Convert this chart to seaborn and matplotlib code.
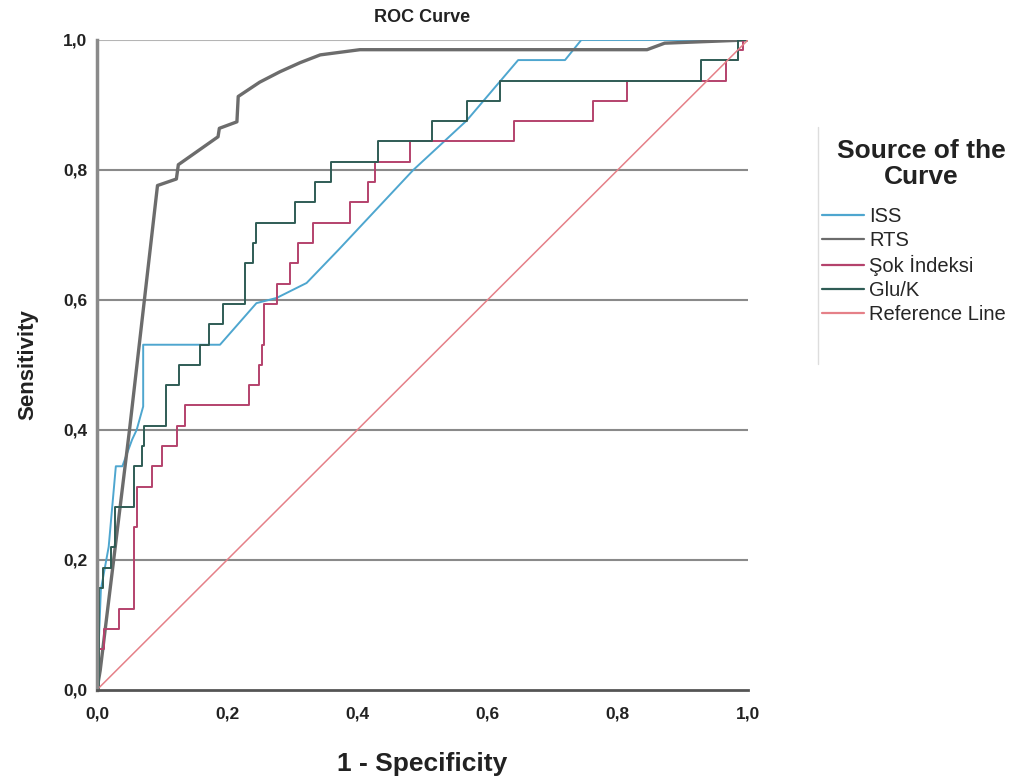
import numpy as np
import pandas as pd
import matplotlib
matplotlib.use('Agg')
import matplotlib.pyplot as plt
from matplotlib.lines import Line2D
import seaborn as sns

sns.set_style('white')
plt.rcParams['font.family'] = ['Liberation Sans', 'DejaVu Sans']

# ROC curve points (1 - specificity, sensitivity)
iss_fpr = [0, 0.006, 0.018, 0.029, 0.039, 0.054, 0.061, 0.071, 0.071, 0.189, 0.245, 0.276,
           0.322, 0.371, 0.486, 0.568, 0.647, 0.719, 0.744, 1.0]
iss_tpr = [0, 0.154, 0.22, 0.344, 0.344, 0.385, 0.40, 0.436, 0.531, 0.531, 0.595, 0.603,
           0.626, 0.677, 0.80, 0.876, 0.969, 0.969, 1.0, 1.0]

rts_fpr = [0, 0.005, 0.05, 0.093, 0.122, 0.125, 0.186, 0.188, 0.215, 0.217, 0.25, 0.281,
           0.312, 0.343, 0.404, 0.845, 0.872, 1.0]
rts_tpr = [0, 0.03, 0.40, 0.776, 0.786, 0.808, 0.851, 0.864, 0.874, 0.913, 0.935, 0.951,
           0.965, 0.977, 0.985, 0.985, 0.995, 1.0]

# step curves: x of each riser and the level reached after it
sok_fpr = [0, 0.003, 0.011, 0.034, 0.057, 0.061, 0.085, 0.100, 0.123, 0.135, 0.234, 0.249,
           0.253, 0.256, 0.277, 0.296, 0.309, 0.332, 0.388, 0.417, 0.427, 0.481, 0.640,
           0.762, 0.814, 0.966, 0.985, 0.993, 1.0]
sok_tpr = [0, 0.0625, 0.094, 0.125, 0.25, 0.3125, 0.344, 0.375, 0.406, 0.4375, 0.469, 0.5,
           0.531, 0.594, 0.625, 0.656, 0.6875, 0.719, 0.75, 0.781, 0.8125, 0.844, 0.875,
           0.906, 0.9375, 0.969, 0.985, 1.0, 1.0]

glu_fpr = [0, 0.003, 0.010, 0.022, 0.027, 0.057, 0.069, 0.073, 0.106, 0.126, 0.158, 0.172,
           0.194, 0.227, 0.240, 0.245, 0.304, 0.335, 0.360, 0.432, 0.514, 0.569, 0.619,
           0.928, 0.985, 1.0]
glu_tpr = [0, 0.156, 0.1875, 0.219, 0.281, 0.344, 0.375, 0.406, 0.469, 0.5, 0.531, 0.5625,
           0.594, 0.656, 0.6875, 0.719, 0.75, 0.781, 0.8125, 0.844, 0.875, 0.906, 0.9375,
           0.969, 1.0, 1.0]

ref_x = [0, 1]
ref_y = [0, 1]

labels = ['ISS', 'RTS', 'Şok İndeksi', 'Glu/K', 'Reference Line']
colors = ['#4ea6cf', '#6c6c6c', '#b4426c', '#2f5c55', '#e58088']

fig, ax = plt.subplots(figsize=(10.26, 7.83), dpi=100)
fig.subplots_adjust(left=0.0945, right=0.729, bottom=0.119, top=0.949)

for y in [0.2, 0.4, 0.6, 0.8]:
    ax.axhline(y, color='#8a8a8a', lw=1.5, zorder=0)
ax.axhline(1.0, color='#b5b5b5', lw=1.5, zorder=0)

sns.lineplot(x=iss_fpr, y=iss_tpr, ax=ax, color=colors[0], lw=1.4, estimator=None)
sns.lineplot(x=rts_fpr, y=rts_tpr, ax=ax, color=colors[1], lw=2.4, estimator=None)
sns.lineplot(x=sok_fpr, y=sok_tpr, ax=ax, color=colors[2], lw=1.4, estimator=None,
             drawstyle='steps-post')
sns.lineplot(x=glu_fpr, y=glu_tpr, ax=ax, color=colors[3], lw=1.4, estimator=None,
             drawstyle='steps-post')
sns.lineplot(x=ref_x, y=ref_y, ax=ax, color=colors[4], lw=1.1, estimator=None)

ax.set_xlim(0, 1)
ax.set_ylim(0, 1)
ticks = [0, 0.2, 0.4, 0.6, 0.8, 1.0]
ax.set_xticks(ticks)
ax.set_yticks(ticks)
ax.set_xticklabels([f'{t:.1f}'.replace('.', ',') for t in ticks], fontsize=12.5,
                   fontweight='bold', color='#222222')
ax.set_yticklabels([f'{t:.1f}'.replace('.', ',') for t in ticks], fontsize=12.5,
                   fontweight='bold', color='#222222')
ax.tick_params(axis='y', length=0, pad=7)
ax.tick_params(axis='x', length=0, pad=12)

for s in ['top', 'right']:
    ax.spines[s].set_visible(False)
ax.spines['left'].set_color('#8a8a8a')
ax.spines['left'].set_linewidth(2.5)
ax.spines['bottom'].set_color('#555555')
ax.spines['bottom'].set_linewidth(2)

ax.set_title('ROC Curve', fontsize=13, fontweight='bold', pad=13, color='#222222')
ax.set_xlabel('1 - Specificity', fontsize=19, fontweight='bold', labelpad=22, color='#222222')
ax.set_ylabel('Sensitivity', fontsize=16, fontweight='bold', labelpad=18, color='#222222')

handles = [Line2D([0], [0], color=c, lw=1.6) for c in colors]
fig.legend(handles, labels, loc='upper left', bbox_to_anchor=(0.801, 0.736),
           frameon=False, handlelength=2.1, handletextpad=0.25,
           labelspacing=0.25, borderpad=0, borderaxespad=0, prop={'size': 14.5})
fig.text(921 / 1026, 1 - 164 / 783, 'Source of the\nCurve', ha='center', va='center',
         multialignment='center', linespacing=1.1, fontsize=19, fontweight='bold',
         color='#222222')
fig.add_artist(Line2D([0.797, 0.797], [0.535, 0.838], transform=fig.transFigure,
                      color='#dddddd', lw=1))

plt.savefig('out.png', dpi=100)
